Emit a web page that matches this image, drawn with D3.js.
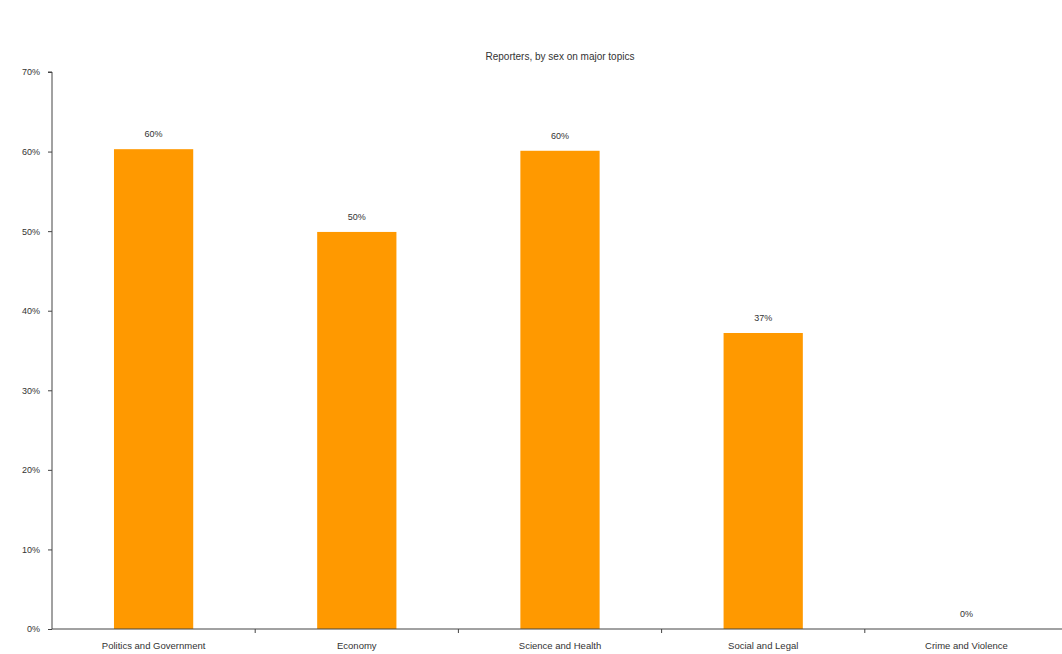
<!DOCTYPE html>
<html lang="en">
<head>
  <meta charset="utf-8" />
  <title>Reporters, by sex on major topics</title>
  <script type="text/javascript" src="https://cdn.jsdelivr.net/npm/d3@7"></script>
  <style type="text/css">
    body { margin: 0; background: white; }
    svg text { font-family: "Liberation Sans", Arial, sans-serif; fill: #333; }
    .axis path, .axis line { stroke: #444; }
  </style>
</head>
<body>

<script type="text/javascript">

var topics = ["Politics and Government", "Economy", "Science and Health", "Social and Legal", "Crime and Violence"];
var shares = [60.3, 49.9, 60.1, 37.2, 0];
var valueLabels = ["60%", "50%", "60%", "37%", "0%"];
var yTicks = [0, 10, 20, 30, 40, 50, 60, 70];

var w = 1062;
var h = 654;
var pad = {left: 52, right: -6, top: 72, bottom: 25};

var svg = d3.select("body")
            .append("svg")
            .attr("width", w)
            .attr("height", h);

var xScale = d3.scaleBand()
               .domain(topics)
               .range([pad.left, w - pad.right])
               .paddingInner(0)
               .paddingOuter(0);

var yScale = d3.scaleLinear()
               .domain([0, 70])
               .range([h - pad.bottom, pad.top]);

var barW = xScale.bandwidth() * 0.39;

// title
svg.append("text")
   .attr("x", 560)
   .attr("y", 60)
   .attr("text-anchor", "middle")
   .style("font-size", "10px")
   .text("Reporters, by sex on major topics");

// bars
svg.selectAll("rect.bar")
   .data(topics)
   .enter()
   .append("rect")
   .attr("class", "bar")
   .attr("x", function(d) { return xScale(d) + (xScale.bandwidth() - barW) / 2; })
   .attr("y", function(d, i) { return yScale(shares[i]); })
   .attr("width", barW)
   .attr("height", function(d, i) { return yScale(0) - yScale(shares[i]); })
   .attr("fill", "#ff9900");

// value labels
svg.selectAll("text.val")
   .data(topics)
   .enter()
   .append("text")
   .attr("class", "val")
   .attr("x", function(d) { return xScale(d) + xScale.bandwidth() / 2; })
   .attr("y", function(d, i) { return yScale(shares[i]) - 12; })
   .attr("text-anchor", "middle")
   .style("font-size", "9px")
   .text(function(d, i) { return valueLabels[i]; });

// y axis
var yAxis = d3.axisLeft(yScale)
              .tickValues(yTicks)
              .tickSize(4)
              .tickPadding(8)
              .tickFormat(function(d) { return d + "%"; });
var gy = svg.append("g")
   .attr("class", "axis")
   .attr("transform", "translate(" + pad.left + ",0)")
   .call(yAxis);
gy.select(".domain").attr("d", "M-4," + yScale(70) + "H0V" + yScale(0));
gy.selectAll("text").style("font-size", "9px").attr("fill", "#333");

// x axis: labels under each band, ticks on band boundaries
var xAxis = d3.axisBottom(xScale)
              .tickSize(0)
              .tickPadding(13);
var gx = svg.append("g")
   .attr("class", "axis")
   .attr("transform", "translate(0," + yScale(0) + ")")
   .call(xAxis);
gx.select(".domain").attr("d", "M" + pad.left + ",0H" + (w - pad.right));
gx.selectAll("text").style("font-size", "9.5px").attr("fill", "#333");

gx.selectAll("line.sep")
  .data(topics.slice(1))
  .enter()
  .append("line")
  .attr("class", "sep")
  .attr("x1", function(d) { return xScale(d); })
  .attr("x2", function(d) { return xScale(d); })
  .attr("y1", 0)
  .attr("y2", 4);

</script>

</body>
</html>
